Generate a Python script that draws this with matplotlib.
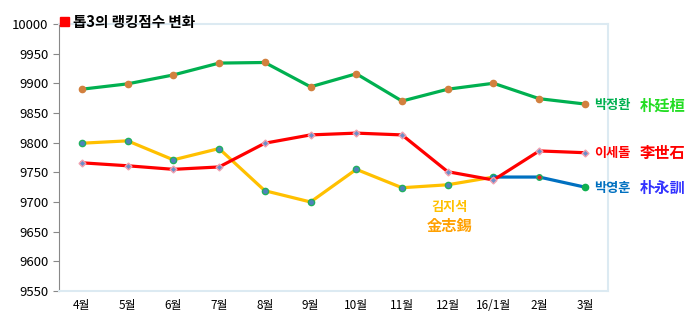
import matplotlib.pyplot as plt
from matplotlib.patches import Rectangle

plt.rcParams['font.family'] = ['Noto Sans CJK KR', 'DejaVu Sans']

months = ["4월", "5월", "6월", "7월", "8월", "9월", "10월", "11월", "12월", "16/1월", "2월", "3월"]
park_jh = [9890, 9899, 9914, 9934, 9935, 9894, 9916, 9870, 9890, 9900, 9874, 9865]
lee_sd = [9766, 9761, 9755, 9759, 9799, 9813, 9816, 9813, 9751, 9737, 9786, 9783]
kim_js = [9799, 9803, 9771, 9790, 9719, 9700, 9755, 9724, 9729, 9742]
park_yh = [9742, 9742, 9725]

x = list(range(len(months)))

fig = plt.figure(figsize=(6.93, 3.23), dpi=100)
ax = fig.add_axes([0.0851, 0.099, 0.792, 0.827])

ax.plot(x, park_jh, color="#00b050", lw=2.3, marker="o", ms=4.5,
        mfc="#d2803e", mec="#d2803e", zorder=3)
ax.plot(x[:len(kim_js)], kim_js, color="#ffc000", lw=2.3, marker="o", ms=4.5,
        mfc="#4f81bd", mec="#20b060", zorder=3)
ax.plot(x[9:], park_yh, color="#0070c0", lw=2.3, zorder=3)
ax.plot(x[10], park_yh[1], "o", ms=4, mfc="#e02020", mec="#20b060", zorder=4)
ax.plot(x[11], park_yh[2], "o", ms=4.5, mfc="#10b050", mec="#10b050", zorder=4)
ax.plot(x, lee_sd, color="#ff0000", lw=2.3, marker="D", ms=3.5,
        mfc="#6a8fc9", mec="#f0a0b0", zorder=5)

ax.set_xlim(-0.5, 11.5)
ax.set_ylim(9550, 10000)
ax.set_yticks(range(9550, 10001, 50))
ax.set_xticks(x)
ax.set_xticklabels(months)
ax.tick_params(axis="x", length=0, labelsize=8.5, pad=13)
for lab in ax.get_xticklabels():
    lab.set_va("baseline")
ax.tick_params(axis="y", length=4, labelsize=9.5, color="#888888", direction="out")

for s in ["top", "right", "bottom"]:
    ax.spines[s].set_color("#dceaf2")
    ax.spines[s].set_linewidth(1.5)
ax.spines["left"].set_color("#888888")

# title
fig.patches.append(Rectangle((0.087, 0.918), 0.012, 0.03, transform=fig.transFigure,
                             color="#ff0000", zorder=10))
fig.text(0.106, 0.933, "톱3의 랭킹점수 변화", fontsize=10.5, fontweight="bold", va="center")

# name labels
ax.text(11.2, 9864, "박정환", color="#00b050", fontsize=9.5, va="center", fontweight="bold")
ax.text(12.2, 9863, "朴廷桓", color="#22dd22", fontsize=11, va="center", fontweight="bold", clip_on=False)
ax.text(11.2, 9783, "이세돌", color="#ff0000", fontsize=9.5, va="center", fontweight="bold", clip_on=False)
ax.text(12.2, 9782, "李世石", color="#ff0000", fontsize=11, va="center", fontweight="bold", clip_on=False)
ax.text(11.2, 9724, "박영훈", color="#0070c0", fontsize=9.5, va="center", fontweight="bold", clip_on=False)
ax.text(12.2, 9723, "朴永訓", color="#3333ff", fontsize=11, va="center", fontweight="bold", clip_on=False)
ax.text(8.05, 9692, "김지석", color="#ffc000", fontsize=9.5, ha="center", va="center", fontweight="bold")
ax.text(8.05, 9659, "金志錫", color="#ffa000", fontsize=11, ha="center", va="center", fontweight="bold")

fig.savefig("out.png", dpi=100, facecolor="white")
